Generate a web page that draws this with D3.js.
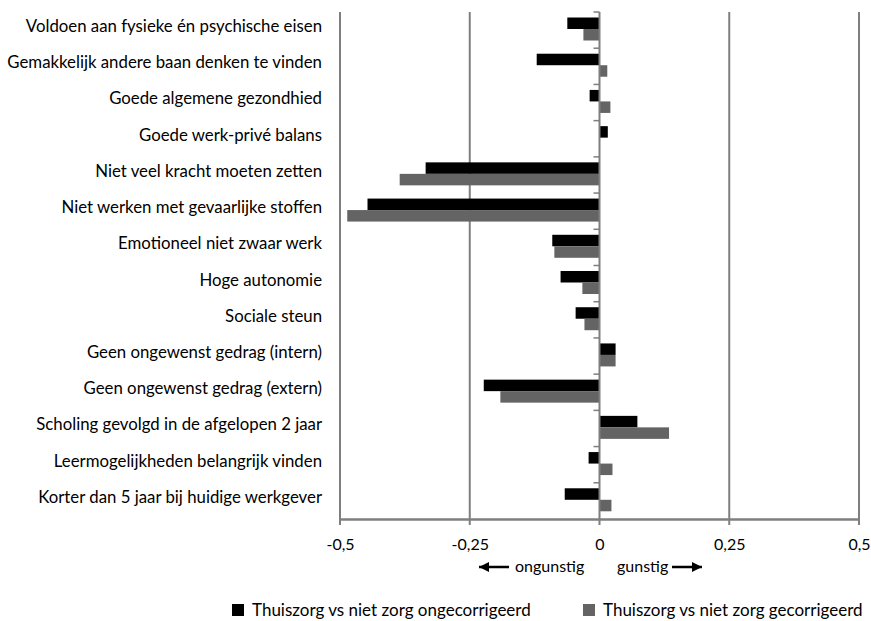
<!DOCTYPE html>
<html>
<head>
<meta charset="utf-8">
<script src="https://cdn.jsdelivr.net/npm/d3@7"></script>
<style>
  body { margin: 0; background: #fff; }
  text { font-family: Lato, "Open Sans", sans-serif; fill: #000; }
</style>
</head>
<body>
<svg id="chart" width="871" height="621"></svg>
<script>
const categories = [
  "Voldoen aan fysieke én psychische eisen",
  "Gemakkelijk andere baan denken te vinden",
  "Goede algemene gezondhied",
  "Goede werk-privé balans",
  "Niet veel kracht moeten zetten",
  "Niet werken met gevaarlijke stoffen",
  "Emotioneel niet zwaar werk",
  "Hoge autonomie",
  "Sociale steun",
  "Geen ongewenst gedrag (intern)",
  "Geen ongewenst gedrag (extern)",
  "Scholing gevolgd in de afgelopen 2 jaar",
  "Leermogelijkheden belangrijk vinden",
  "Korter dan 5 jaar bij huidige werkgever"
];
const seriesNames = [
  "Thuiszorg vs niet zorg ongecorrigeerd",
  "Thuiszorg vs niet zorg gecorrigeerd"
];
const ongecorrigeerd = [-0.062, -0.121, -0.019, 0.016, -0.335, -0.447, -0.091, -0.075, -0.046, 0.031, -0.223, 0.073, -0.021, -0.067];
const gecorrigeerd   = [-0.031, 0.015, 0.021, 0.0, -0.385, -0.486, -0.087, -0.033, -0.029, 0.031, -0.191, 0.134, 0.025, 0.023];
const tickValues = [-0.5, -0.25, 0, 0.25, 0.5];
const tickLabels = ["-0,5", "-0,25", "0", "0,25", "0,5"];
const colors = ["#000000", "#646464"];

(function () {
const svg = d3.select("#chart");
const mLeft = 340, mRight = 859, mTop = 12, mBottom = 519;

const x = d3.scaleLinear().domain([-0.5, 0.5]).range([mLeft, mRight]);
const y = d3.scaleBand().domain(categories).range([mTop, mBottom]).padding(0);
const bw = y.bandwidth();
const ySub = d3.scaleBand().domain([0, 1]).range([bw * 0.152, bw * 0.787]).padding(0);

const grid = "#7f7f7f";

svg.append("g").selectAll("line")
  .data(tickValues.filter(v => v !== 0))
  .join("line")
  .attr("x1", d => x(d)).attr("x2", d => x(d))
  .attr("y1", mTop).attr("y2", mBottom + 6)
  .attr("stroke", grid).attr("stroke-width", 2);

const data = [ongecorrigeerd, gecorrigeerd];
const gBars = svg.append("g");
data.forEach((vals, si) => {
  gBars.selectAll(null)
    .data(vals.map((v, i) => ({ v, c: categories[i] })))
    .join("rect")
    .attr("x", d => x(Math.min(0, d.v)))
    .attr("width", d => Math.abs(x(d.v) - x(0)))
    .attr("y", d => y(d.c) + ySub(si))
    .attr("height", ySub.bandwidth())
    .attr("fill", colors[si]);
});

svg.append("line")
  .attr("x1", x(0)).attr("x2", x(0))
  .attr("y1", mTop).attr("y2", mBottom + 6)
  .attr("stroke", grid).attr("stroke-width", 2);

svg.append("g").selectAll("line")
  .data(categories)
  .join("line")
  .attr("x1", x(0) - 6).attr("x2", x(0))
  .attr("y1", d => y(d)).attr("y2", d => y(d))
  .attr("stroke", grid).attr("stroke-width", 1.5);

const xAxis = d3.axisBottom(x)
  .tickValues(tickValues)
  .tickFormat((d, i) => tickLabels[i])
  .tickSize(0).tickPadding(20);
const gx = svg.append("g").attr("transform", `translate(0,${mBottom})`).call(xAxis);
gx.select(".domain").attr("stroke", grid).attr("stroke-width", 2.5);
gx.selectAll("text").style("font-size", "16px").style("font-family", "Lato, sans-serif").attr("fill", "#000");

svg.append("g").selectAll("text")
  .data(categories)
  .join("text")
  .attr("x", 322)
  .attr("y", d => y(d) + 20)
  .attr("text-anchor", "end")
  .style("font-size", "16.8px")
  .text(d => d);

svg.append("defs").append("marker")
  .attr("id", "ah").attr("viewBox", "0 0 10 10")
  .attr("refX", 10).attr("refY", 5)
  .attr("markerWidth", 11).attr("markerHeight", 10)
  .attr("markerUnits", "userSpaceOnUse")
  .attr("orient", "auto")
  .append("path").attr("d", "M0,0 L10,5 L0,10 Z").attr("fill", "#000");
const ann = svg.append("g");
const ay = 567;
ann.append("line").attr("x1", 509).attr("x2", 479).attr("y1", ay).attr("y2", ay)
  .attr("stroke", "#000").attr("stroke-width", 2.5).attr("marker-end", "url(#ah)");
ann.append("text").attr("x", 515).attr("y", ay + 5).style("font-size", "16px").text("ongunstig");
ann.append("text").attr("x", 617).attr("y", ay + 5).style("font-size", "16px").text("gunstig");
ann.append("line").attr("x1", 672).attr("x2", 702).attr("y1", ay).attr("y2", ay)
  .attr("stroke", "#000").attr("stroke-width", 2.5).attr("marker-end", "url(#ah)");

const legX = [232, 583];
const leg = svg.append("g");
seriesNames.forEach((n, i) => {
  leg.append("rect").attr("x", legX[i]).attr("y", 604).attr("width", 12).attr("height", 12).attr("fill", colors[i]);
  leg.append("text").attr("x", legX[i] + 20).attr("y", 616).style("font-size", "17px").text(n);
});
})();
</script>
</body>
</html>
